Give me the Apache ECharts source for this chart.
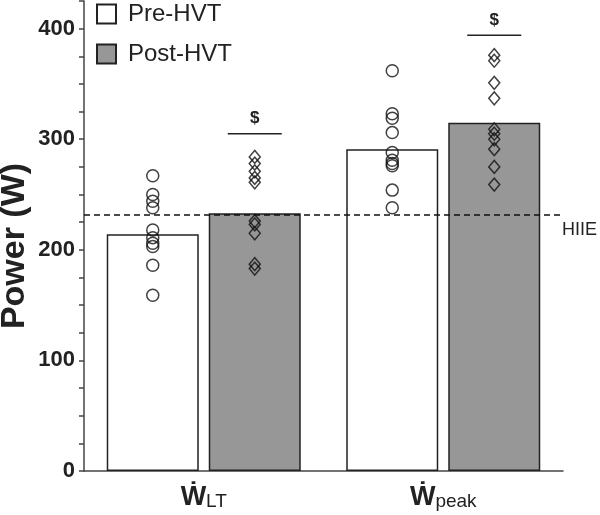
<!DOCTYPE html>
<html>
<head>
<meta charset="utf-8">
<script src="https://cdn.jsdelivr.net/npm/echarts@6/dist/echarts.min.js"></script>
<style>html,body{margin:0;padding:0;background:#fff}#c{width:600px;height:515px}</style>
</head>
<body>
<div id="c"></div>
<script>
// ---- data ----
const categories = ['LT', 'peak'];
const seriesNames = ['Pre-HVT', 'Post-HVT'];
const barPre = [214, 291];
const barPost = [233, 315];
const preLT = [267, 250, 244, 238, 218, 211, 206, 203, 186, 159];
const postLT = [284, 278, 271, 265, 261, 226, 223, 215, 187, 183];
const prePeak = [362, 323, 319, 306, 288, 281, 278, 276, 254, 238];
const postPeak = [376, 371, 351, 337, 309, 305, 300, 291, 275, 259];
const hiie = 232;
const sigLevels = [305, 394];
const sigLabel = '$';
const yTicks = [0, 100, 200, 300, 400];

// ---- layout / style ----
const BAR_W = 92;
const GAP_PX = 10;
const OFF = (BAR_W + GAP_PX) / 2;
const FONT = '"Liberation Sans", Arial, "DejaVu Sans", sans-serif';
const INK = '#222';

const chart = echarts.init(document.getElementById('c'), null, {renderer: 'canvas'});

const pts = (arr, i) => arr.map(v => [i, v]);

chart.setOption({
  animation: false,
  backgroundColor: '#fff',
  textStyle: {fontFamily: FONT},
  grid: {left: 84, right: 37, top: 1, bottom: 44, containLabel: false, outerBoundsMode: 'none'},
  legend: {
    data: seriesNames,
    orient: 'vertical',
    left: 91, top: -3,
    itemWidth: 19, itemHeight: 19,
    itemGap: 16,
    icon: 'rect',
    textStyle: {fontSize: 24, color: INK, fontFamily: FONT, padding: [0, 0, 0, 7]}
  },
  xAxis: {
    type: 'category',
    data: categories,
    axisLine: {lineStyle: {color: '#444', width: 1.5}},
    axisTick: {alignWithLabel: true, length: 5, lineStyle: {color: '#444', width: 1.5}},
    axisLabel: {
      margin: 10,
      formatter: v => '{w|\u1E86}{s|' + v + '}',
      rich: {
        w: {fontSize: 27, fontWeight: 'bold', color: INK, fontFamily: FONT, verticalAlign: 'bottom', lineHeight: 30},
        s: {fontSize: 19, color: INK, fontFamily: FONT, verticalAlign: 'bottom', lineHeight: 26}
      }
    }
  },
  yAxis: {
    type: 'value',
    min: 0, max: 425, interval: 25,
    name: 'Power (W)',
    nameLocation: 'middle',
    nameGap: 52,
    nameMoveOverlap: false,
    nameTextStyle: {fontSize: 34, fontWeight: 'bold', color: INK, fontFamily: FONT, padding: [0, 20, 0, 0]},
    axisLine: {show: true, lineStyle: {color: '#444', width: 1.5}},
    axisTick: {show: true, length: 5, lineStyle: {color: '#444', width: 1.5}},
    splitLine: {show: false},
    axisLabel: {
      fontSize: 22, fontWeight: 'bold', color: INK, fontFamily: FONT, margin: 9,
      formatter: v => yTicks.includes(v) ? String(v) : ''
    }
  },
  series: [
    {
      name: seriesNames[0], type: 'bar', data: barPre,
      barWidth: BAR_W, barGap: (GAP_PX / BAR_W * 100) + '%',
      itemStyle: {color: '#fff', borderColor: INK, borderWidth: 1.5},
      z: 2
    },
    {
      name: seriesNames[1], type: 'bar', data: barPost,
      barWidth: BAR_W,
      itemStyle: {color: '#979797', borderColor: INK, borderWidth: 1.5},
      z: 2,
      markLine: {
        silent: true, symbol: 'none', z: 3,
        lineStyle: {type: [6, 4], color: '#111', width: 1.5},
        label: {show: true, position: 'end', formatter: 'HIIE', fontSize: 18, color: INK, fontFamily: FONT, offset: [-3, 16], distance: 2},
        data: [{yAxis: hiie}]
      }
    },
    {
      name: 'pre-pts', type: 'scatter',
      data: pts(preLT, 0).concat(pts(prePeak, 1)),
      symbol: 'circle', symbolSize: 12, symbolOffset: [-OFF, 0],
      itemStyle: {color: 'rgba(0,0,0,0)', borderColor: '#111', borderWidth: 1.5},
      z: 5
    },
    {
      name: 'post-pts', type: 'scatter',
      data: pts(postLT, 0).concat(pts(postPeak, 1)),
      symbol: 'diamond', symbolSize: [11, 13], symbolOffset: [OFF, 0],
      itemStyle: {color: 'rgba(0,0,0,0)', borderColor: '#111', borderWidth: 1.5},
      z: 5
    },
    {
      name: 'sig', type: 'custom',
      data: sigLevels.map((v, i) => [i, v]),
      z: 6,
      renderItem: (params, api) => {
        const p = api.coord([api.value(0), api.value(1)]);
        const x = p[0] + OFF;
        return {
          type: 'group',
          children: [
            {type: 'line', shape: {x1: x - 27, y1: p[1], x2: x + 27, y2: p[1]}, style: {stroke: INK, lineWidth: 1.5}},
            {type: 'text', x: x, y: p[1] - 15, style: {text: sigLabel, fontSize: 17, fontWeight: 'bold', fill: INK, align: 'center', verticalAlign: 'middle', fontFamily: FONT}}
          ]
        };
      }
    }
  ]
});
</script>
</body>
</html>
